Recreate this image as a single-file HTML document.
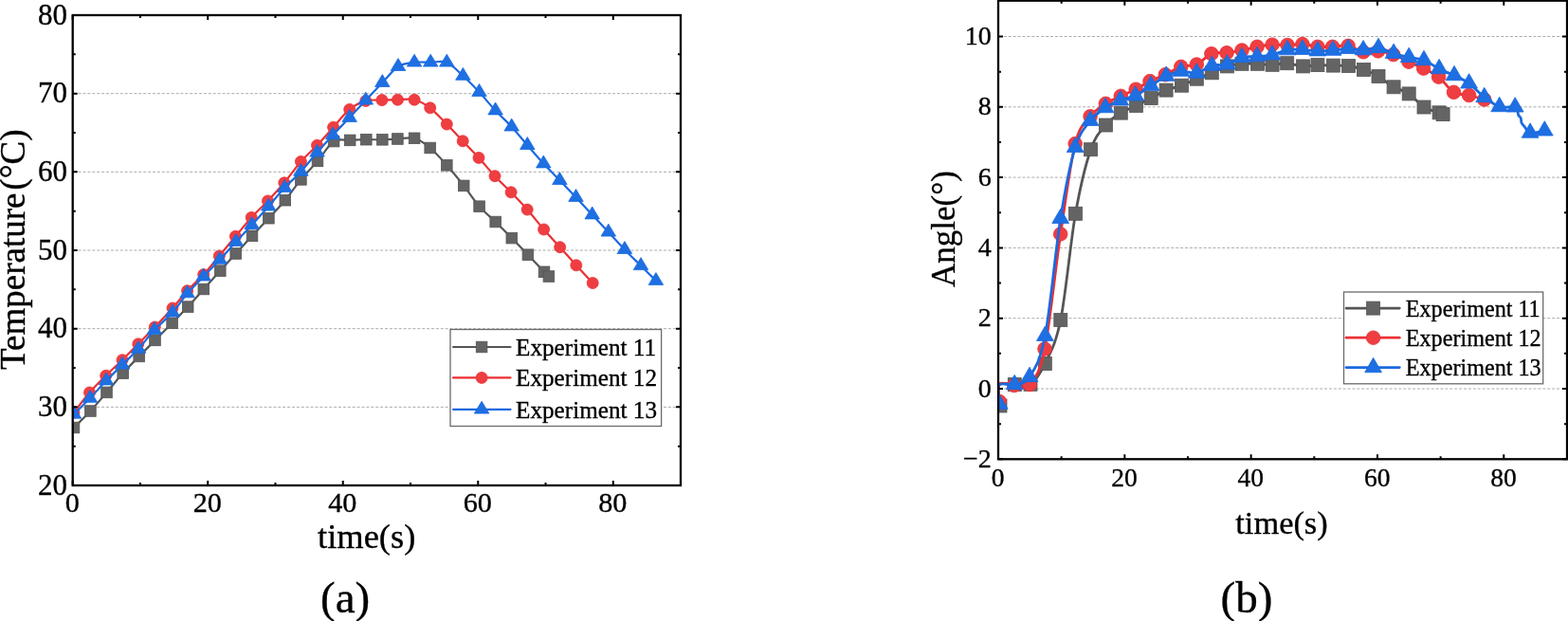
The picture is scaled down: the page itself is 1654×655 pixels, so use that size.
<!DOCTYPE html><html><head><meta charset="utf-8"><title>Figure</title><style>html,body{margin:0;padding:0;background:#fff}svg{display:block}text{font-family:"Liberation Serif","Times New Roman",serif;fill:#000;stroke:#000;stroke-width:0.35px}</style></head><body>
<svg width="1654" height="655" viewBox="0 0 1654 655">
<rect width="1654" height="655" fill="#fff"/>
<line x1="77.7" y1="429.35" x2="717" y2="429.35" stroke="#ababab" stroke-width="1" stroke-dasharray="3 1.9"/>
<line x1="77.7" y1="346.68" x2="717" y2="346.68" stroke="#ababab" stroke-width="1" stroke-dasharray="3 1.9"/>
<line x1="77.7" y1="264.01" x2="717" y2="264.01" stroke="#ababab" stroke-width="1" stroke-dasharray="3 1.9"/>
<line x1="77.7" y1="181.34" x2="717" y2="181.34" stroke="#ababab" stroke-width="1" stroke-dasharray="3 1.9"/>
<line x1="77.7" y1="98.67" x2="717" y2="98.67" stroke="#ababab" stroke-width="1" stroke-dasharray="3 1.9"/>
<clipPath id="cl"><rect x="76.7" y="16" width="641.3" height="496"/></clipPath>
<g clip-path="url(#cl)">
<path d="M78,451 C80.9,448.08 89.65,439.68 95.4,433.5 C101.15,427.32 106.78,420.55 112.5,413.9 C118.22,407.25 124,399.93 129.7,393.6 C135.4,387.27 141.07,381.68 146.7,375.9 C152.33,370.12 157.68,364.75 163.5,358.9 C169.32,353.05 175.82,346.68 181.6,340.8 C187.38,334.92 192.67,329.57 198.2,323.6 C203.73,317.63 209.12,311.33 214.8,305 C220.48,298.67 226.65,291.85 232.3,285.6 C237.95,279.35 243.08,273.63 248.7,267.5 C254.32,261.37 260.22,255.02 266,248.8 C271.78,242.58 277.6,236.47 283.4,230.2 C289.2,223.93 295.13,218 300.8,211.2 C306.47,204.4 311.7,196.28 317.4,189.4 C323.1,182.52 329.22,176.62 335,169.9 C340.78,163.18 346.4,152.77 352.1,149.1 C357.8,145.43 363.5,148.22 369.2,147.9 C374.9,147.58 380.62,147.3 386.3,147.2 C391.98,147.1 397.78,147.42 403.3,147.3 C408.82,147.18 413.77,146.75 419.4,146.5 C425.03,146.25 431.38,144.22 437.1,145.8 C442.82,147.38 448,151.25 453.7,156 C459.4,160.75 465.38,167.65 471.3,174.3 C477.22,180.95 483.48,188.67 489.2,195.9 C494.92,203.13 500.02,211.35 505.6,217.7 C511.18,224.05 517,228.43 522.7,234 C528.4,239.57 534.1,245.32 539.8,251.1 C545.5,256.88 551.2,262.75 556.9,268.7 C562.6,274.65 570.33,283 574,286.8 C577.67,290.6 578.08,290.72 578.9,291.5" fill="none" stroke="#555555" stroke-width="2.2" stroke-linejoin="round" stroke-linecap="round"/>
<g fill="#646464" stroke="#555555" stroke-width="0.8">
<rect x="72.2" y="445.2" width="11.6" height="11.6"/>
<rect x="89.6" y="427.7" width="11.6" height="11.6"/>
<rect x="106.7" y="408.1" width="11.6" height="11.6"/>
<rect x="123.9" y="387.8" width="11.6" height="11.6"/>
<rect x="140.9" y="370.1" width="11.6" height="11.6"/>
<rect x="157.7" y="353.1" width="11.6" height="11.6"/>
<rect x="175.8" y="335" width="11.6" height="11.6"/>
<rect x="192.4" y="317.8" width="11.6" height="11.6"/>
<rect x="209" y="299.2" width="11.6" height="11.6"/>
<rect x="226.5" y="279.8" width="11.6" height="11.6"/>
<rect x="242.9" y="261.7" width="11.6" height="11.6"/>
<rect x="260.2" y="243" width="11.6" height="11.6"/>
<rect x="277.6" y="224.4" width="11.6" height="11.6"/>
<rect x="295" y="205.4" width="11.6" height="11.6"/>
<rect x="311.6" y="183.6" width="11.6" height="11.6"/>
<rect x="329.2" y="164.1" width="11.6" height="11.6"/>
<rect x="346.3" y="143.3" width="11.6" height="11.6"/>
<rect x="363.4" y="142.1" width="11.6" height="11.6"/>
<rect x="380.5" y="141.4" width="11.6" height="11.6"/>
<rect x="397.5" y="141.5" width="11.6" height="11.6"/>
<rect x="413.6" y="140.7" width="11.6" height="11.6"/>
<rect x="431.3" y="140" width="11.6" height="11.6"/>
<rect x="447.9" y="150.2" width="11.6" height="11.6"/>
<rect x="465.5" y="168.5" width="11.6" height="11.6"/>
<rect x="483.4" y="190.1" width="11.6" height="11.6"/>
<rect x="499.8" y="211.9" width="11.6" height="11.6"/>
<rect x="516.9" y="228.2" width="11.6" height="11.6"/>
<rect x="534" y="245.3" width="11.6" height="11.6"/>
<rect x="551.1" y="262.9" width="11.6" height="11.6"/>
<rect x="568.2" y="281" width="11.6" height="11.6"/>
<rect x="573.1" y="285.7" width="11.6" height="11.6"/>
</g>
<path d="M78,435 C80.75,431.5 88.88,420.47 94.5,414 C100.12,407.53 105.95,401.92 111.7,396.2 C117.45,390.48 123.32,385.27 129,379.7 C134.68,374.13 140.08,368.58 145.8,362.8 C151.52,357.02 157.27,351.3 163.3,345 C169.33,338.7 176.28,331.38 182,325 C187.72,318.62 192.15,312.6 197.6,306.7 C203.05,300.8 209.08,295.72 214.7,289.6 C220.32,283.48 225.68,276.72 231.3,270 C236.92,263.28 242.75,256.07 248.4,249.3 C254.05,242.53 259.52,235.63 265.2,229.4 C270.88,223.17 276.73,218 282.5,211.9 C288.27,205.8 293.98,199.72 299.8,192.8 C305.62,185.88 311.62,176.98 317.4,170.4 C323.18,163.82 328.8,159.33 334.5,153.3 C340.2,147.27 345.9,140.52 351.6,134.2 C357.3,127.88 363,120.03 368.7,115.4 C374.4,110.77 380.1,108.03 385.8,106.4 C391.5,104.77 397.28,105.8 402.9,105.6 C408.52,105.4 413.8,105.27 419.5,105.2 C425.2,105.13 431.4,103.77 437.1,105.2 C442.8,106.63 448,109.48 453.7,113.8 C459.4,118.12 465.55,125.27 471.3,131.1 C477.05,136.93 482.58,142.92 488.2,148.8 C493.82,154.68 499.37,160.25 505,166.4 C510.63,172.55 516.32,179.63 522,185.7 C527.68,191.77 533.4,196.9 539.1,202.8 C544.8,208.7 550.45,214.57 556.2,221.1 C561.95,227.63 567.85,235.4 573.6,242 C579.35,248.6 585,254.4 590.7,260.7 C596.4,267 602.05,273.5 607.8,279.8 C613.55,286.1 622.3,295.38 625.2,298.5" fill="none" stroke="#ec2f33" stroke-width="2.2" stroke-linejoin="round" stroke-linecap="round"/>
<g fill="#ee3e42" stroke="#ec2f33" stroke-width="0.8">
<circle cx="78" cy="435" r="6"/>
<circle cx="94.5" cy="414" r="6"/>
<circle cx="111.7" cy="396.2" r="6"/>
<circle cx="129" cy="379.7" r="6"/>
<circle cx="145.8" cy="362.8" r="6"/>
<circle cx="163.3" cy="345" r="6"/>
<circle cx="182" cy="325" r="6"/>
<circle cx="197.6" cy="306.7" r="6"/>
<circle cx="214.7" cy="289.6" r="6"/>
<circle cx="231.3" cy="270" r="6"/>
<circle cx="248.4" cy="249.3" r="6"/>
<circle cx="265.2" cy="229.4" r="6"/>
<circle cx="282.5" cy="211.9" r="6"/>
<circle cx="299.8" cy="192.8" r="6"/>
<circle cx="317.4" cy="170.4" r="6"/>
<circle cx="334.5" cy="153.3" r="6"/>
<circle cx="351.6" cy="134.2" r="6"/>
<circle cx="368.7" cy="115.4" r="6"/>
<circle cx="385.8" cy="106.4" r="6"/>
<circle cx="402.9" cy="105.6" r="6"/>
<circle cx="419.5" cy="105.2" r="6"/>
<circle cx="437.1" cy="105.2" r="6"/>
<circle cx="453.7" cy="113.8" r="6"/>
<circle cx="471.3" cy="131.1" r="6"/>
<circle cx="488.2" cy="148.8" r="6"/>
<circle cx="505" cy="166.4" r="6"/>
<circle cx="522" cy="185.7" r="6"/>
<circle cx="539.1" cy="202.8" r="6"/>
<circle cx="556.2" cy="221.1" r="6"/>
<circle cx="573.6" cy="242" r="6"/>
<circle cx="590.7" cy="260.7" r="6"/>
<circle cx="607.8" cy="279.8" r="6"/>
<circle cx="625.2" cy="298.5" r="6"/>
</g>
<path d="M78,436.9 C80.82,434.08 89.22,425.88 94.9,420 C100.58,414.12 106.42,407.47 112.1,401.6 C117.78,395.73 123.35,390.4 129,384.8 C134.65,379.2 140.35,374.12 146,368 C151.65,361.88 156.9,354.5 162.9,348.1 C168.9,341.7 176.22,336.03 182,329.6 C187.78,323.17 192.15,315.82 197.6,309.5 C203.05,303.18 209,297.62 214.7,291.7 C220.4,285.78 226.1,280.1 231.8,274 C237.5,267.9 243.25,261.23 248.9,255.1 C254.55,248.97 259.98,243.43 265.7,237.2 C271.42,230.97 277.43,224.22 283.2,217.7 C288.97,211.18 294.6,204.22 300.3,198.1 C306,191.98 311.7,187.22 317.4,181 C323.1,174.78 328.88,167.23 334.5,160.8 C340.12,154.37 345.4,148.52 351.1,142.4 C356.8,136.28 362.92,130.2 368.7,124.1 C374.48,118 380.03,111.95 385.8,105.8 C391.57,99.65 397.6,93.13 403.3,87.2 C409,81.27 414.37,73.77 420,70.2 C425.63,66.63 431.4,66.53 437.1,65.8 C442.8,65.07 448.5,65.8 454.2,65.8 C459.9,65.8 465.6,63.43 471.3,65.8 C477,68.17 482.7,74.78 488.4,80 C494.1,85.22 499.8,91 505.5,97.1 C511.2,103.2 516.9,110.5 522.6,116.6 C528.3,122.7 534.08,127.6 539.7,133.7 C545.32,139.8 550.7,146.72 556.3,153.2 C561.9,159.68 567.62,166.43 573.3,172.6 C578.98,178.77 584.7,184.28 590.4,190.2 C596.1,196.12 601.78,202.03 607.5,208.1 C613.22,214.17 618.98,220.48 624.7,226.6 C630.42,232.72 636.1,238.7 641.8,244.8 C647.5,250.9 653.2,257.28 658.9,263.2 C664.6,269.12 670.5,274.82 676,280.3 C681.5,285.78 689.25,293.47 691.9,296.1" fill="none" stroke="#1a6ae0" stroke-width="2.2" stroke-linejoin="round" stroke-linecap="round"/>
<g fill="#1e6fe2" stroke="#1a6ae0" stroke-width="0.8">
<path d="M78,428.3L85.75,441.2L70.25,441.2Z"/>
<path d="M94.9,411.4L102.65,424.3L87.15,424.3Z"/>
<path d="M112.1,393L119.85,405.9L104.35,405.9Z"/>
<path d="M129,376.2L136.75,389.1L121.25,389.1Z"/>
<path d="M146,359.4L153.75,372.3L138.25,372.3Z"/>
<path d="M162.9,339.5L170.65,352.4L155.15,352.4Z"/>
<path d="M182,321L189.75,333.9L174.25,333.9Z"/>
<path d="M197.6,300.9L205.35,313.8L189.85,313.8Z"/>
<path d="M214.7,283.1L222.45,296L206.95,296Z"/>
<path d="M231.8,265.4L239.55,278.3L224.05,278.3Z"/>
<path d="M248.9,246.5L256.65,259.4L241.15,259.4Z"/>
<path d="M265.7,228.6L273.45,241.5L257.95,241.5Z"/>
<path d="M283.2,209.1L290.95,222L275.45,222Z"/>
<path d="M300.3,189.5L308.05,202.4L292.55,202.4Z"/>
<path d="M317.4,172.4L325.15,185.3L309.65,185.3Z"/>
<path d="M334.5,152.2L342.25,165.1L326.75,165.1Z"/>
<path d="M351.1,133.8L358.85,146.7L343.35,146.7Z"/>
<path d="M368.7,115.5L376.45,128.4L360.95,128.4Z"/>
<path d="M385.8,97.2L393.55,110.1L378.05,110.1Z"/>
<path d="M403.3,78.6L411.05,91.5L395.55,91.5Z"/>
<path d="M420,61.6L427.75,74.5L412.25,74.5Z"/>
<path d="M437.1,57.2L444.85,70.1L429.35,70.1Z"/>
<path d="M454.2,57.2L461.95,70.1L446.45,70.1Z"/>
<path d="M471.3,57.2L479.05,70.1L463.55,70.1Z"/>
<path d="M488.4,71.4L496.15,84.3L480.65,84.3Z"/>
<path d="M505.5,88.5L513.25,101.4L497.75,101.4Z"/>
<path d="M522.6,108L530.35,120.9L514.85,120.9Z"/>
<path d="M539.7,125.1L547.45,138L531.95,138Z"/>
<path d="M556.3,144.6L564.05,157.5L548.55,157.5Z"/>
<path d="M573.3,164L581.05,176.9L565.55,176.9Z"/>
<path d="M590.4,181.6L598.15,194.5L582.65,194.5Z"/>
<path d="M607.5,199.5L615.25,212.4L599.75,212.4Z"/>
<path d="M624.7,218L632.45,230.9L616.95,230.9Z"/>
<path d="M641.8,236.2L649.55,249.1L634.05,249.1Z"/>
<path d="M658.9,254.6L666.65,267.5L651.15,267.5Z"/>
<path d="M676,271.7L683.75,284.6L668.25,284.6Z"/>
<path d="M691.9,287.5L699.65,300.4L684.15,300.4Z"/>
</g>
</g>
<rect x="76.7" y="16" width="641.3" height="496" fill="none" stroke="#000" stroke-width="2.3"/>
<path d="M76.7,512v-5M76.7,16v5M219.22,512v-5M219.22,16v5M361.74,512v-5M361.74,16v5M504.26,512v-5M504.26,16v5M646.78,512v-5M646.78,16v5M147.96,512v-3M147.96,16v3M290.48,512v-3M290.48,16v3M433,512v-3M433,16v3M575.52,512v-3M575.52,16v3M76.7,512.02h5M718,512.02h-5M76.7,429.35h5M718,429.35h-5M76.7,346.68h5M718,346.68h-5M76.7,264.01h5M718,264.01h-5M76.7,181.34h5M718,181.34h-5M76.7,98.67h5M718,98.67h-5M76.7,16h5M718,16h-5M76.7,470.68h3M718,470.68h-3M76.7,388.01h3M718,388.01h-3M76.7,305.34h3M718,305.34h-3M76.7,222.67h3M718,222.67h-3M76.7,140h3M718,140h-3M76.7,57.33h3M718,57.33h-3" stroke="#000" stroke-width="2" fill="none"/>
<line x1="1054" y1="410" x2="1652" y2="410" stroke="#ababab" stroke-width="1" stroke-dasharray="3 1.9"/>
<line x1="1054" y1="335.7" x2="1652" y2="335.7" stroke="#ababab" stroke-width="1" stroke-dasharray="3 1.9"/>
<line x1="1054" y1="261.4" x2="1652" y2="261.4" stroke="#ababab" stroke-width="1" stroke-dasharray="3 1.9"/>
<line x1="1054" y1="187.1" x2="1652" y2="187.1" stroke="#ababab" stroke-width="1" stroke-dasharray="3 1.9"/>
<line x1="1054" y1="112.8" x2="1652" y2="112.8" stroke="#ababab" stroke-width="1" stroke-dasharray="3 1.9"/>
<line x1="1054" y1="38.5" x2="1652" y2="38.5" stroke="#ababab" stroke-width="1" stroke-dasharray="3 1.9"/>
<clipPath id="cr"><rect x="1053" y="0.7" width="600" height="483.6"/></clipPath>
<g clip-path="url(#cr)">
<path d="M1055,428 C1054.83,424.33 1051.45,409.73 1054,406 C1056.55,402.27 1064.8,405.72 1070.3,405.6 C1075.8,405.48 1081.67,408.98 1087,405.3 C1092.33,401.62 1097,394.8 1102.3,383.5 C1107.6,372.2 1113.43,363.87 1118.8,337.5 C1124.17,311.13 1129.2,255.27 1134.5,225.3 C1139.8,195.33 1145.28,173.25 1150.6,157.7 C1155.92,142.15 1161.12,138.43 1166.4,132 C1171.68,125.57 1176.95,122.53 1182.3,119.1 C1187.65,115.67 1193.18,114 1198.5,111.4 C1203.82,108.8 1208.93,106.22 1214.2,103.5 C1219.47,100.78 1224.73,97.32 1230.1,95.1 C1235.47,92.88 1241.03,92.18 1246.4,90.2 C1251.77,88.22 1256.98,85.43 1262.3,83.2 C1267.62,80.97 1272.95,79.02 1278.3,76.8 C1283.65,74.58 1289.12,71.48 1294.4,69.9 C1299.68,68.32 1304.65,67.73 1310,67.3 C1315.35,66.87 1321.15,67.13 1326.5,67.3 C1331.85,67.47 1336.9,68.4 1342.1,68.3 C1347.3,68.2 1352.3,66.43 1357.7,66.7 C1363.1,66.97 1369.13,69.58 1374.5,69.9 C1379.87,70.22 1384.6,68.73 1389.9,68.6 C1395.2,68.47 1400.87,68.95 1406.3,69.1 C1411.73,69.25 1417.15,68.77 1422.5,69.5 C1427.85,70.23 1433.15,71.67 1438.4,73.5 C1443.65,75.33 1448.72,77.45 1454,80.5 C1459.28,83.55 1464.73,88.73 1470.1,91.8 C1475.47,94.87 1480.88,95.37 1486.2,98.9 C1491.52,102.43 1496.68,109.68 1502,113 C1507.32,116.32 1514.75,117.53 1518.1,118.8 C1521.45,120.07 1521.43,120.3 1522.1,120.6" fill="none" stroke="#555555" stroke-width="2.8" stroke-linejoin="round" stroke-linecap="round"/>
<g fill="#646464" stroke="#555555" stroke-width="0.8">
<rect x="1048" y="421" width="14" height="14"/>
<rect x="1063.3" y="398.6" width="14" height="14"/>
<rect x="1080" y="398.3" width="14" height="14"/>
<rect x="1095.3" y="376.5" width="14" height="14"/>
<rect x="1111.8" y="330.5" width="14" height="14"/>
<rect x="1127.5" y="218.3" width="14" height="14"/>
<rect x="1143.6" y="150.7" width="14" height="14"/>
<rect x="1159.4" y="125" width="14" height="14"/>
<rect x="1175.3" y="112.1" width="14" height="14"/>
<rect x="1191.5" y="104.4" width="14" height="14"/>
<rect x="1207.2" y="96.5" width="14" height="14"/>
<rect x="1223.1" y="88.1" width="14" height="14"/>
<rect x="1239.4" y="83.2" width="14" height="14"/>
<rect x="1255.3" y="76.2" width="14" height="14"/>
<rect x="1271.3" y="69.8" width="14" height="14"/>
<rect x="1287.4" y="62.9" width="14" height="14"/>
<rect x="1303" y="60.3" width="14" height="14"/>
<rect x="1319.5" y="60.3" width="14" height="14"/>
<rect x="1335.1" y="61.3" width="14" height="14"/>
<rect x="1350.7" y="59.7" width="14" height="14"/>
<rect x="1367.5" y="62.9" width="14" height="14"/>
<rect x="1382.9" y="61.6" width="14" height="14"/>
<rect x="1399.3" y="62.1" width="14" height="14"/>
<rect x="1415.5" y="62.5" width="14" height="14"/>
<rect x="1431.4" y="66.5" width="14" height="14"/>
<rect x="1447" y="73.5" width="14" height="14"/>
<rect x="1463.1" y="84.8" width="14" height="14"/>
<rect x="1479.2" y="91.9" width="14" height="14"/>
<rect x="1495" y="106" width="14" height="14"/>
<rect x="1511.1" y="111.8" width="14" height="14"/>
<rect x="1515.1" y="113.6" width="14" height="14"/>
</g>
<path d="M1054.2,423.5 C1054.17,420.42 1051.4,407.83 1054,405 C1056.6,402.17 1064.42,406.42 1069.8,406.5 C1075.18,406.58 1080.93,411.92 1086.3,405.5 C1091.67,399.08 1096.6,394.43 1102,368 C1107.4,341.57 1113.33,282.97 1118.7,246.9 C1124.07,210.83 1128.97,172.3 1134.2,151.6 C1139.43,130.9 1144.73,129.75 1150.1,122.7 C1155.47,115.65 1161.03,112.87 1166.4,109.3 C1171.77,105.73 1177,103.82 1182.3,101.3 C1187.6,98.78 1193.08,96.82 1198.2,94.2 C1203.32,91.58 1207.82,88.18 1213,85.6 C1218.18,83.02 1223.83,81.23 1229.3,78.7 C1234.77,76.17 1240.3,72.18 1245.8,70.4 C1251.3,68.62 1256.95,70.28 1262.3,68 C1267.65,65.72 1272.62,58.75 1277.9,56.7 C1283.18,54.65 1288.65,56.32 1294,55.7 C1299.35,55.08 1304.65,54.07 1310,53 C1315.35,51.93 1320.77,50.27 1326.1,49.3 C1331.43,48.33 1336.68,47.5 1342,47.2 C1347.32,46.9 1352.68,47.6 1358,47.5 C1363.32,47.4 1368.58,46.3 1373.9,46.6 C1379.22,46.9 1384.62,48.85 1389.9,49.3 C1395.18,49.75 1400.23,49.45 1405.6,49.3 C1410.97,49.15 1416.68,47.48 1422.1,48.4 C1427.52,49.32 1432.85,53.88 1438.1,54.8 C1443.35,55.72 1448.32,53.43 1453.6,53.9 C1458.88,54.37 1464.4,55.72 1469.8,57.6 C1475.2,59.48 1480.7,62.78 1486,65.2 C1491.3,67.62 1496.33,69.43 1501.6,72.1 C1506.87,74.77 1512.28,77 1517.6,81.2 C1522.92,85.4 1528.17,94.08 1533.5,97.3 C1538.83,100.52 1544.23,99.22 1549.6,100.5 C1554.97,101.78 1563.02,104.25 1565.7,105" fill="none" stroke="#ec2f33" stroke-width="2.8" stroke-linejoin="round" stroke-linecap="round"/>
<g fill="#ee3e42" stroke="#ec2f33" stroke-width="0.8">
<circle cx="1054.2" cy="423.5" r="7.3"/>
<circle cx="1069.8" cy="406.5" r="7.3"/>
<circle cx="1086.3" cy="405.5" r="7.3"/>
<circle cx="1102" cy="368" r="7.3"/>
<circle cx="1118.7" cy="246.9" r="7.3"/>
<circle cx="1134.2" cy="151.6" r="7.3"/>
<circle cx="1150.1" cy="122.7" r="7.3"/>
<circle cx="1166.4" cy="109.3" r="7.3"/>
<circle cx="1182.3" cy="101.3" r="7.3"/>
<circle cx="1198.2" cy="94.2" r="7.3"/>
<circle cx="1213" cy="85.6" r="7.3"/>
<circle cx="1229.3" cy="78.7" r="7.3"/>
<circle cx="1245.8" cy="70.4" r="7.3"/>
<circle cx="1262.3" cy="68" r="7.3"/>
<circle cx="1277.9" cy="56.7" r="7.3"/>
<circle cx="1294" cy="55.7" r="7.3"/>
<circle cx="1310" cy="53" r="7.3"/>
<circle cx="1326.1" cy="49.3" r="7.3"/>
<circle cx="1342" cy="47.2" r="7.3"/>
<circle cx="1358" cy="47.5" r="7.3"/>
<circle cx="1373.9" cy="46.6" r="7.3"/>
<circle cx="1389.9" cy="49.3" r="7.3"/>
<circle cx="1405.6" cy="49.3" r="7.3"/>
<circle cx="1422.1" cy="48.4" r="7.3"/>
<circle cx="1438.1" cy="54.8" r="7.3"/>
<circle cx="1453.6" cy="53.9" r="7.3"/>
<circle cx="1469.8" cy="57.6" r="7.3"/>
<circle cx="1486" cy="65.2" r="7.3"/>
<circle cx="1501.6" cy="72.1" r="7.3"/>
<circle cx="1517.6" cy="81.2" r="7.3"/>
<circle cx="1533.5" cy="97.3" r="7.3"/>
<circle cx="1549.6" cy="100.5" r="7.3"/>
<circle cx="1565.7" cy="105" r="7.3"/>
</g>
<path d="M1054.2,426.2 C1054.17,422.83 1051.33,409.43 1054,406 C1056.67,402.57 1064.87,407.02 1070.2,405.6 C1075.53,404.18 1080.63,406.05 1086,397.5 C1091.37,388.95 1096.95,382.15 1102.4,354.3 C1107.85,326.45 1113.4,263.55 1118.7,230.4 C1124,197.25 1128.97,172.58 1134.2,155.4 C1139.43,138.22 1144.8,134.27 1150.1,127.3 C1155.4,120.33 1160.72,117.18 1166,113.6 C1171.28,110.02 1176.52,107.92 1181.8,105.8 C1187.08,103.68 1192.33,103.48 1197.7,100.9 C1203.07,98.32 1208.58,93.75 1214,90.3 C1219.42,86.85 1224.9,82.72 1230.2,80.2 C1235.5,77.68 1240.45,75.73 1245.8,75.2 C1251.15,74.67 1256.87,78 1262.3,77 C1267.73,76 1273.05,70.72 1278.4,69.2 C1283.75,67.68 1289.13,69.35 1294.4,67.9 C1299.67,66.45 1304.72,61.88 1310,60.5 C1315.28,59.12 1320.77,60.05 1326.1,59.6 C1331.43,59.15 1336.68,58.95 1342,57.8 C1347.32,56.65 1352.68,53.62 1358,52.7 C1363.32,51.78 1368.58,52.12 1373.9,52.3 C1379.22,52.48 1384.55,53.65 1389.9,53.8 C1395.25,53.95 1400.63,53.6 1406,53.2 C1411.37,52.8 1416.75,51.48 1422.1,51.4 C1427.45,51.32 1432.78,52.85 1438.1,52.7 C1443.42,52.55 1448.67,49.9 1454,50.5 C1459.33,51.1 1464.73,54.65 1470.1,56.3 C1475.47,57.95 1480.88,59.2 1486.2,60.4 C1491.52,61.6 1496.68,61.47 1502,63.5 C1507.32,65.53 1512.77,69.92 1518.1,72.6 C1523.43,75.28 1528.75,77.05 1534,79.6 C1539.25,82.15 1544.32,84.08 1549.6,87.9 C1554.88,91.72 1560.35,98.38 1565.7,102.5 C1571.05,106.62 1576.28,110.87 1581.7,112.6 C1587.12,114.33 1594.85,111.42 1598.2,112.9 C1601.55,114.38 1600.8,119.57 1601.8,121.5 C1602.8,123.43 1603.67,123.17 1604.2,124.5 C1604.73,125.83 1604.33,127.98 1605,129.5 C1605.67,131.02 1606.68,131.83 1608.2,133.6 C1609.72,135.37 1610.58,139.38 1614.1,140.1 C1617.62,140.82 1626.77,138.27 1629.3,137.9" fill="none" stroke="#1a6ae0" stroke-width="2.8" stroke-linejoin="round" stroke-linecap="round"/>
<g fill="#1e6fe2" stroke="#1a6ae0" stroke-width="0.8">
<path d="M1054.2,415.93L1063.1,431.33L1045.3,431.33Z"/>
<path d="M1070.2,395.33L1079.1,410.73L1061.3,410.73Z"/>
<path d="M1086,387.23L1094.9,402.63L1077.1,402.63Z"/>
<path d="M1102.4,344.03L1111.3,359.43L1093.5,359.43Z"/>
<path d="M1118.7,220.13L1127.6,235.53L1109.8,235.53Z"/>
<path d="M1134.2,145.13L1143.1,160.53L1125.3,160.53Z"/>
<path d="M1150.1,117.03L1159,132.43L1141.2,132.43Z"/>
<path d="M1166,103.33L1174.9,118.73L1157.1,118.73Z"/>
<path d="M1181.8,95.53L1190.7,110.93L1172.9,110.93Z"/>
<path d="M1197.7,90.63L1206.6,106.03L1188.8,106.03Z"/>
<path d="M1214,80.03L1222.9,95.43L1205.1,95.43Z"/>
<path d="M1230.2,69.93L1239.1,85.33L1221.3,85.33Z"/>
<path d="M1245.8,64.93L1254.7,80.33L1236.9,80.33Z"/>
<path d="M1262.3,66.73L1271.2,82.13L1253.4,82.13Z"/>
<path d="M1278.4,58.93L1287.3,74.33L1269.5,74.33Z"/>
<path d="M1294.4,57.63L1303.3,73.03L1285.5,73.03Z"/>
<path d="M1310,50.23L1318.9,65.63L1301.1,65.63Z"/>
<path d="M1326.1,49.33L1335,64.73L1317.2,64.73Z"/>
<path d="M1342,47.53L1350.9,62.93L1333.1,62.93Z"/>
<path d="M1358,42.43L1366.9,57.83L1349.1,57.83Z"/>
<path d="M1373.9,42.03L1382.8,57.43L1365,57.43Z"/>
<path d="M1389.9,43.53L1398.8,58.93L1381,58.93Z"/>
<path d="M1406,42.93L1414.9,58.33L1397.1,58.33Z"/>
<path d="M1422.1,41.13L1431,56.53L1413.2,56.53Z"/>
<path d="M1438.1,42.43L1447,57.83L1429.2,57.83Z"/>
<path d="M1454,40.23L1462.9,55.63L1445.1,55.63Z"/>
<path d="M1470.1,46.03L1479,61.43L1461.2,61.43Z"/>
<path d="M1486.2,50.13L1495.1,65.53L1477.3,65.53Z"/>
<path d="M1502,53.23L1510.9,68.63L1493.1,68.63Z"/>
<path d="M1518.1,62.33L1527,77.73L1509.2,77.73Z"/>
<path d="M1534,69.33L1542.9,84.73L1525.1,84.73Z"/>
<path d="M1549.6,77.63L1558.5,93.03L1540.7,93.03Z"/>
<path d="M1565.7,92.23L1574.6,107.63L1556.8,107.63Z"/>
<path d="M1581.7,102.33L1590.6,117.73L1572.8,117.73Z"/>
<path d="M1598.2,102.63L1607.1,118.03L1589.3,118.03Z"/>
<path d="M1614.1,129.83L1623,145.23L1605.2,145.23Z"/>
<path d="M1629.3,127.63L1638.2,143.03L1620.4,143.03Z"/>
</g>
</g>
<rect x="1053" y="0.7" width="600" height="483.6" fill="none" stroke="#000" stroke-width="2.3"/>
<path d="M1053,484.3v-5M1053,0.7v5M1186.32,484.3v-5M1186.32,0.7v5M1319.64,484.3v-5M1319.64,0.7v5M1452.96,484.3v-5M1452.96,0.7v5M1586.28,484.3v-5M1586.28,0.7v5M1119.66,484.3v-3M1119.66,0.7v3M1252.98,484.3v-3M1252.98,0.7v3M1386.3,484.3v-3M1386.3,0.7v3M1519.62,484.3v-3M1519.62,0.7v3M1053,484.3h5M1653,484.3h-5M1053,410h5M1653,410h-5M1053,335.7h5M1653,335.7h-5M1053,261.4h5M1653,261.4h-5M1053,187.1h5M1653,187.1h-5M1053,112.8h5M1653,112.8h-5M1053,38.5h5M1653,38.5h-5M1053,447.15h3M1653,447.15h-3M1053,372.85h3M1653,372.85h-3M1053,298.55h3M1653,298.55h-3M1053,224.25h3M1653,224.25h-3M1053,149.95h3M1653,149.95h-3M1053,75.65h3M1653,75.65h-3" stroke="#000" stroke-width="2" fill="none"/>
<text x="71" y="521.62" font-size="31" text-anchor="end">20</text>
<text x="71" y="438.95" font-size="31" text-anchor="end">30</text>
<text x="71" y="356.28" font-size="31" text-anchor="end">40</text>
<text x="71" y="273.61" font-size="31" text-anchor="end">50</text>
<text x="71" y="190.94" font-size="31" text-anchor="end">60</text>
<text x="71" y="108.27" font-size="31" text-anchor="end">70</text>
<text x="71" y="25.6" font-size="31" text-anchor="end">80</text>
<text x="76.2" y="540.4" font-size="30.2" text-anchor="middle">0</text>
<text x="218.72" y="540.4" font-size="30.2" text-anchor="middle">20</text>
<text x="361.24" y="540.4" font-size="30.2" text-anchor="middle">40</text>
<text x="503.76" y="540.4" font-size="30.2" text-anchor="middle">60</text>
<text x="646.28" y="540.4" font-size="30.2" text-anchor="middle">80</text>
<text x="1045.8" y="492.9" font-size="28" text-anchor="end">−2</text>
<text x="1045.8" y="418.6" font-size="28" text-anchor="end">0</text>
<text x="1045.8" y="344.3" font-size="28" text-anchor="end">2</text>
<text x="1045.8" y="270" font-size="28" text-anchor="end">4</text>
<text x="1045.8" y="195.7" font-size="28" text-anchor="end">6</text>
<text x="1045.8" y="121.4" font-size="28" text-anchor="end">8</text>
<text x="1045.8" y="47.1" font-size="28" text-anchor="end">10</text>
<text x="1052.7" y="512.6" font-size="27.5" text-anchor="middle">0</text>
<text x="1186.02" y="512.6" font-size="27.5" text-anchor="middle">20</text>
<text x="1319.34" y="512.6" font-size="27.5" text-anchor="middle">40</text>
<text x="1452.66" y="512.6" font-size="27.5" text-anchor="middle">60</text>
<text x="1585.98" y="512.6" font-size="27.5" text-anchor="middle">80</text>
<text x="335" y="577.8" font-size="36.5">time(s)</text>
<text x="1303.3" y="563.2" font-size="34.4">time(s)</text>
<text transform="translate(25.6,390) rotate(-90)" font-size="37">Temperature<tspan dx="3">(°C)</tspan></text>
<text transform="translate(1006.8,303) rotate(-90)" font-size="35">Angle(°)</text>
<text x="338" y="645.6" font-size="47">(a)</text>
<text x="1287.6" y="645.6" font-size="47">(b)</text>
<rect x="475" y="347.5" width="222.6" height="102" fill="#fff" stroke="#6a6a6a" stroke-width="1.3"/>
<line x1="478" y1="366" x2="538.5" y2="366" stroke="#555555" stroke-width="2.2" stroke-linecap="round"/>
<g fill="#646464" stroke="#555555" stroke-width="0.8"><rect x="502.3" y="360.2" width="11.6" height="11.6"/></g>
<text x="544" y="374.7" font-size="25.2">Experiment 11</text>
<line x1="478" y1="398.4" x2="538.5" y2="398.4" stroke="#ec2f33" stroke-width="2.2" stroke-linecap="round"/>
<g fill="#ee3e42" stroke="#ec2f33" stroke-width="0.8"><circle cx="508.1" cy="398.4" r="6"/></g>
<text x="544" y="407.1" font-size="25.2">Experiment 12</text>
<line x1="478" y1="431.8" x2="538.5" y2="431.8" stroke="#1a6ae0" stroke-width="2.2" stroke-linecap="round"/>
<g fill="#1e6fe2" stroke="#1a6ae0" stroke-width="0.8"><path d="M508.1,423.2L515.85,436.1L500.35,436.1Z"/></g>
<text x="544" y="440.5" font-size="25.2">Experiment 13</text>
<rect x="1417.5" y="308" width="210.2" height="96.8" fill="#fff" stroke="#6a6a6a" stroke-width="1.3"/>
<line x1="1420" y1="325.1" x2="1476.3" y2="325.1" stroke="#555555" stroke-width="2.7" stroke-linecap="round"/>
<g fill="#646464" stroke="#555555" stroke-width="0.8"><rect x="1441.6" y="318.1" width="14" height="14"/></g>
<text x="1482.8" y="333.5" font-size="24.15">Experiment 11</text>
<line x1="1420" y1="356.2" x2="1476.3" y2="356.2" stroke="#ec2f33" stroke-width="2.7" stroke-linecap="round"/>
<g fill="#ee3e42" stroke="#ec2f33" stroke-width="0.8"><circle cx="1448.6" cy="356.2" r="7.3"/></g>
<text x="1482.8" y="364.6" font-size="24.15">Experiment 12</text>
<line x1="1420" y1="387.6" x2="1476.3" y2="387.6" stroke="#1a6ae0" stroke-width="2.7" stroke-linecap="round"/>
<g fill="#1e6fe2" stroke="#1a6ae0" stroke-width="0.8"><path d="M1448.6,377.33L1457.5,392.73L1439.7,392.73Z"/></g>
<text x="1482.8" y="396" font-size="24.15">Experiment 13</text>
</svg></body></html>
